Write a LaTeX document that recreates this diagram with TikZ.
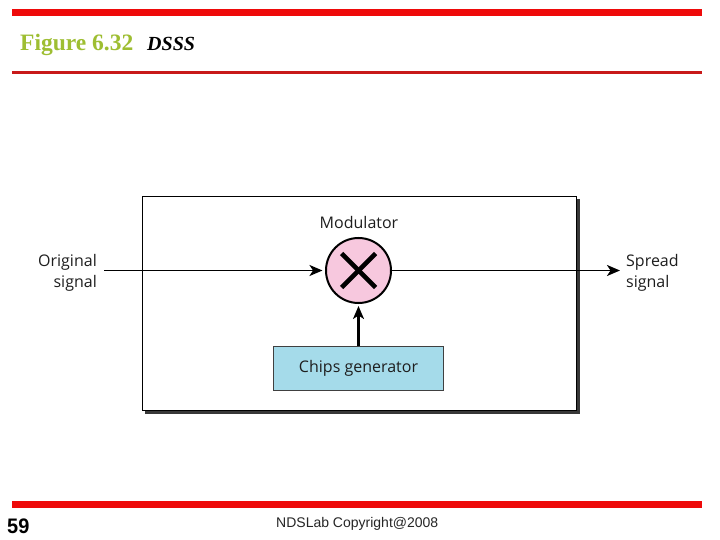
\documentclass[tikz,border=0pt]{standalone}
\usepackage{fontspec}
\setmainfont{Liberation Serif}
\newfontfamily\labelfont{Open Sans}
\newfontfamily\footfont{Liberation Sans}
\usetikzlibrary{arrows.meta}
\definecolor{barred}{RGB}{238,10,10}
\definecolor{thinred}{RGB}{200,25,25}
\definecolor{titlegreen}{RGB}{158,190,50}
\definecolor{modpink}{RGB}{247,200,222}
\definecolor{chipblue}{RGB}{165,219,234}
\definecolor{inkdark}{RGB}{30,30,30}
\tikzset{
  x=1pt,y=-1pt,
  lab/.style={font=\labelfont\fontsize{16}{21}\selectfont,text=inkdark,inner sep=0pt,align=left},
  conn/.style={draw=black,line width=1.9pt,-{Stealth[length=13pt,width=11pt,inset=3.5pt]}},
  bar/.style={fill=barred,draw=none},
}
\begin{document}
\begin{tikzpicture}
\useasboundingbox (0,0) rectangle (720,540);
\fill[white] (0,0) rectangle (720,540);
% rules
\fill[bar] (12,9) rectangle (702,16);
\fill[thinred] (12,71) rectangle (702,74);
\fill[bar] (12,501) rectangle (702,508);
% titles
\node[anchor=base west,inner sep=0pt,text=titlegreen,font=\fontsize{23.5}{26}\selectfont\bfseries] (title) at (20,51) {Figure 6.32};
\node[anchor=base west,inner sep=0pt,font=\fontsize{20}{24}\selectfont\bfseries\itshape] (sub) at (147,51) {DSSS};
% frame
\fill[black!78] (145,199) rectangle (580,414);
\node[draw=black,line width=1pt,fill=white,anchor=north west,minimum width=434pt,minimum height=214pt,inner sep=0pt] (frame) at (142,196) {};
% modulator
\node[circle,draw=black,line width=2pt,fill=modpink,minimum size=65pt,inner sep=0pt] (mod) at (358.5,270.5) {};
\draw[black,line width=4.6pt] (mod.center) ++(-17,-17) -- ++(34,34);
\draw[black,line width=4.6pt] (mod.center) ++(17,-17) -- ++(-34,34);
\node[lab,anchor=south] (modlab) at (359,229) {Modulator};
% chips
\node[draw=black!75,line width=1.2pt,fill=chipblue,anchor=north,minimum width=170pt,minimum height=44pt,inner sep=0pt,font=\labelfont\fontsize{16}{20}\selectfont,text=inkdark] (chips) at (358.5,346) {Chips generator};
% signals
\node[lab,anchor=north east,align=right] (orig) at (97,254) {Original\\signal};
\node[lab,anchor=north west] (spread) at (626,254) {Spread\\signal};
\coordinate (origend) at (104,270.5);
\coordinate (spreadend) at (620,270.5);
\draw[conn,shorten >=2.5pt] (origend) -- (mod.west);
\draw[conn] (mod.east) -- (spreadend);
\draw[conn,line width=2.1pt,shorten >=2pt] (chips.north) -- (mod.south);
% footer
\node[anchor=base west,inner sep=0pt,xscale=0.95,font=\footfont\fontsize{21}{24}\selectfont\bfseries] (page) at (7,533) {59};
\node[anchor=base west,inner sep=0pt,font=\footfont\fontsize{14}{16}\selectfont,text=black!85] (copy) at (276,527) {NDSLab Copyright@2008};
\end{tikzpicture}
\end{document}
